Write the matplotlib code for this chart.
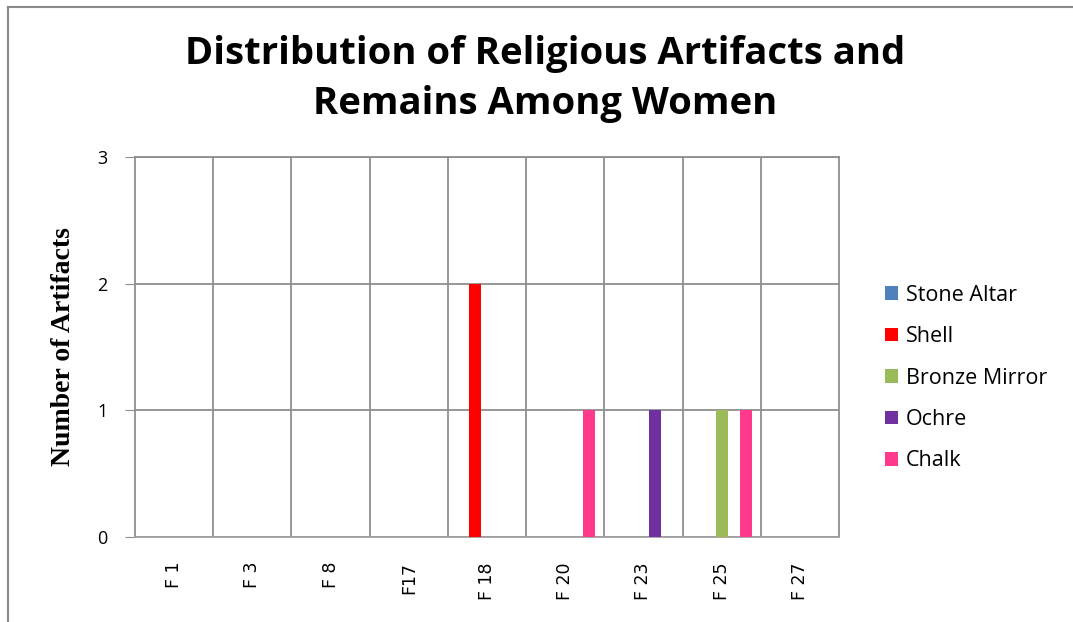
import matplotlib
matplotlib.use('Agg')
import matplotlib.pyplot as plt
from matplotlib.lines import Line2D
from matplotlib.patches import Patch
import numpy as np

# data
graves = ['F 1', 'F 3', 'F 8', 'F17', 'F 18', 'F 20', 'F 23', 'F 25', 'F 27']
series = ['Stone Altar', 'Shell', 'Bronze Mirror', 'Ochre', 'Chalk']
stone_altar = [0, 0, 0, 0, 0, 0, 0, 0, 0]
shell = [0, 0, 0, 0, 2, 0, 0, 0, 0]
bronze_mirror = [0, 0, 0, 0, 0, 0, 0, 1, 0]
ochre = [0, 0, 0, 0, 0, 0, 1, 0, 0]
chalk = [0, 0, 0, 0, 0, 1, 0, 1, 0]
colors = ['#4F81BD', '#FF0000', '#9BBB59', '#7030A0', '#FF3A8C']

values = [stone_altar, shell, bronze_mirror, ochre, chalk]
grid_c = '#8f8f8f'

fig = plt.figure(figsize=(10.73, 6.22), dpi=100)
ax = fig.add_axes([135 / 1073, 1 - 537 / 622, 704 / 1073, 380 / 622])

x = np.arange(len(graves))
w = 0.1535
for k, (name, vals) in enumerate(zip(series, values)):
    ax.bar(x + (k - 2) * w, vals, width=w, color=colors[k], label=name, zorder=3)

ax.set_xlim(-0.5, len(graves) - 0.5)
ax.set_ylim(0, 3)
ax.set_yticks([0, 1, 2, 3])
ax.set_xticks(x)
ax.set_xticklabels(graves, rotation=90, fontsize=12.5, family='DejaVu Sans', va='top')
ax.set_xticks(np.arange(0.5, len(graves) - 0.5, 1), minor=True)
ax.tick_params(axis='x', which='both', length=0, pad=18)
ax.tick_params(axis='y', length=7, color=grid_c, pad=13, labelsize=13)
for lbl in ax.get_yticklabels():
    lbl.set_family('Open Sans')
ax.grid(axis='y', color=grid_c, lw=1.3, zorder=1)
ax.grid(axis='x', which='minor', color=grid_c, lw=1.3, zorder=1)
for s in ax.spines.values():
    s.set_color(grid_c)
    s.set_linewidth(1.3)
ax.spines['bottom'].set_color('#a0a0a0')

ax.set_ylabel('Number of Artifacts', family='Liberation Serif', fontweight='bold',
              fontsize=20, labelpad=15)

fig.text(545 / 1073, 1 - 79 / 622, 'Distribution of Religious Artifacts and\nRemains Among Women',
         ha='center', va='center', fontsize=27.5, fontweight='bold', family='Open Sans',
         linespacing=1.38)

handles = [Patch(facecolor=c, label=n) for c, n in zip(colors, series)]
fig.legend(handles=handles, loc='center left', bbox_to_anchor=(866 / 1073, 1 - 378 / 622),
           frameon=False, prop={'family': 'Open Sans', 'size': 15.5}, handlelength=0.6,
           handleheight=0.6, handletextpad=0.35, labelspacing=0.95)

# outer chart border (top and left edges only visible)
fig.add_artist(Line2D([8 / 1073, 1], [1 - 7 / 622, 1 - 7 / 622], color='#8a8a8a', lw=1.5,
                      transform=fig.transFigure))
fig.add_artist(Line2D([8 / 1073, 8 / 1073], [0, 1 - 7 / 622], color='#8a8a8a', lw=1.5,
                      transform=fig.transFigure))

fig.savefig('out.png', dpi=100)
